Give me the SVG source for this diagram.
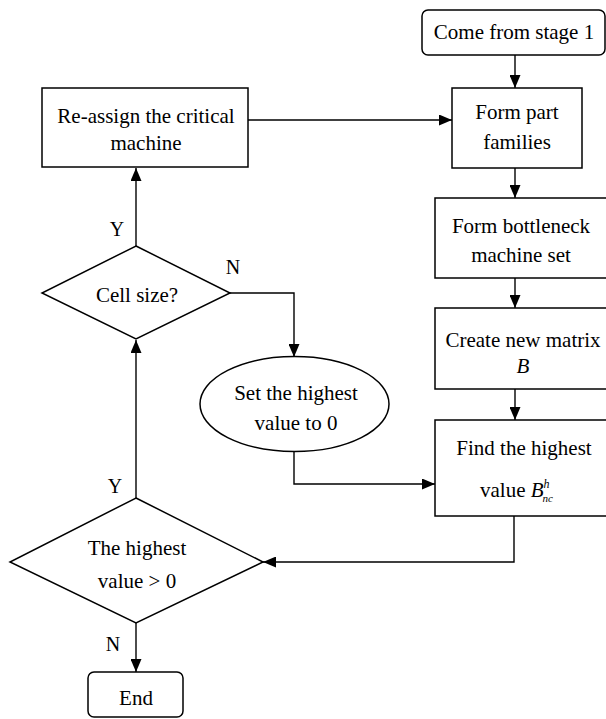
<svg xmlns="http://www.w3.org/2000/svg" width="606" height="719" viewBox="0 0 606 719">
<defs>
<marker id="ah" markerUnits="userSpaceOnUse" markerWidth="13" markerHeight="11" refX="13" refY="5.5" orient="auto">
<path d="M0,0 L13,5.5 L0,11 z" fill="#000"/>
</marker>
</defs>
<style>
.box{fill:#fff;stroke:#000;stroke-width:1.5}
.t{font-family:"Liberation Serif","Times New Roman",serif;font-size:21px;fill:#000;text-anchor:middle}
.lbl{font-family:"Liberation Serif","Times New Roman",serif;font-size:20px;fill:#000;text-anchor:middle}
.c{fill:none;stroke:#000;stroke-width:1.4;marker-end:url(#ah)}
</style>
<rect width="606" height="719" fill="#fff"/>
<g id="connectors">
<line class="c" x1="515" y1="55" x2="515" y2="88"/>
<line class="c" x1="515" y1="168" x2="515" y2="198"/>
<line class="c" x1="515" y1="278" x2="515" y2="308"/>
<line class="c" x1="515" y1="389" x2="515" y2="420"/>
<polyline class="c" points="514,516 514,562 263,562"/>
<line class="c" x1="136" y1="498" x2="136" y2="340"/>
<line class="c" x1="136" y1="246" x2="136" y2="168"/>
<line class="c" x1="248" y1="120" x2="452" y2="120"/>
<polyline class="c" points="230,293 294,293 294,357"/>
<polyline class="c" points="294,452 294,484 435,484"/>
<line class="c" x1="136" y1="623" x2="136" y2="672"/>
<text class="lbl" x="117" y="236">Y</text>
<text class="lbl" x="233" y="274">N</text>
<text class="lbl" x="115" y="493">Y</text>
<text class="lbl" x="113" y="651">N</text>
</g>
<g id="come">
<rect class="box" x="422" y="10" width="183" height="45" rx="6"/>
<text class="t" x="514" y="39">Come from stage 1</text>
</g>
<g id="formpart">
<rect class="box" x="452" y="88" width="130" height="80"/>
<text class="t" x="517" y="119">Form part</text>
<text class="t" x="517" y="149">families</text>
</g>
<g id="bottleneck">
<rect class="box" x="435" y="198" width="180" height="80"/>
<text class="t" x="521" y="233">Form bottleneck</text>
<text class="t" x="521" y="262">machine set</text>
</g>
<g id="creatematrix">
<rect class="box" x="435" y="308" width="180" height="81"/>
<text class="t" x="523" y="347">Create new matrix</text>
<text class="t" x="523" y="373" font-style="italic">B</text>
</g>
<g id="findhighest">
<rect class="box" x="435" y="420" width="180" height="96"/>
<text class="t" x="524" y="455">Find the highest</text>
<text class="t" x="508" y="497" text-anchor="start" style="text-anchor:start" transform="translate(-28,0)">value <tspan font-style="italic">B</tspan><tspan font-style="italic" font-size="12" dy="-9">h</tspan><tspan font-style="italic" font-size="11" dx="-7" dy="14">nc</tspan></text>
</g>
<g id="reassign">
<rect class="box" x="42" y="88" width="206" height="79"/>
<text class="t" x="146" y="123">Re-assign the critical</text>
<text class="t" x="146" y="150">machine</text>
</g>
<g id="cellsize">
<polygon class="box" points="136,246 230,293 136,339 42,293"/>
<text class="t" x="137" y="302">Cell size?</text>
</g>
<g id="setzero">
<ellipse class="box" cx="294.5" cy="404" rx="94.5" ry="47.5"/>
<text class="t" x="296" y="400">Set the highest</text>
<text class="t" x="296" y="430">value to 0</text>
</g>
<g id="highestpos">
<polygon class="box" points="136,498 263,562 136,623 10,562"/>
<text class="t" x="137" y="555">The highest</text>
<text class="t" x="137" y="588">value &gt; 0</text>
</g>
<g id="end">
<rect class="box" x="88" y="672" width="95" height="45" rx="6"/>
<text class="t" x="136" y="705">End</text>
</g>
</svg>
